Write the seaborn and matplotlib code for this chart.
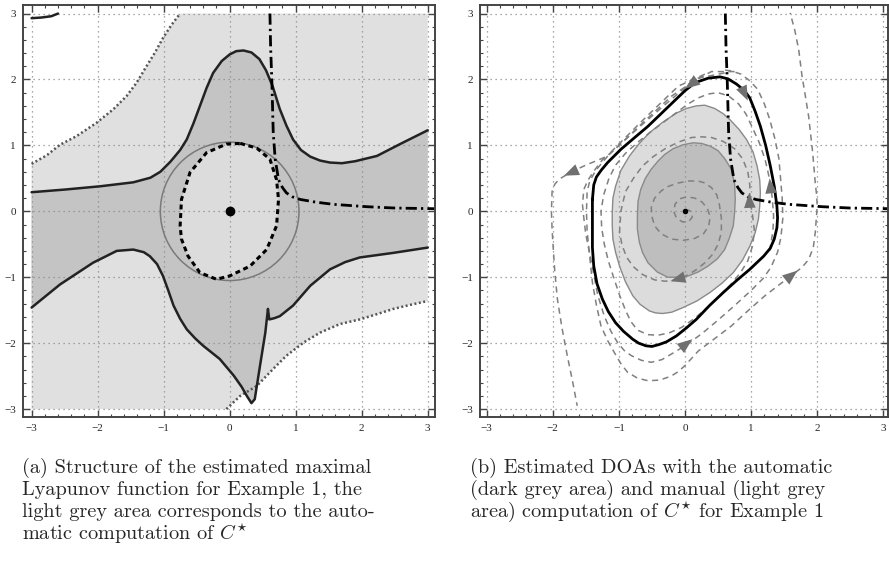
import numpy as np
import matplotlib
matplotlib.use("Agg")
import matplotlib.pyplot as plt
import seaborn as sns
from matplotlib.ticker import MultipleLocator

sns.set_style("ticks")
plt.rcParams["mathtext.fontset"] = "cm"

# ---------------- left panel (a) ----------------
# dotted boundary of the light grey region
bnd_up_x = [-3.0, -2.77, -2.57, -2.32, -2.02, -1.76, -1.56, -1.41, -1.26, -1.13, -1.01, -0.88, -0.75]
bnd_up_y = [0.72, 0.85, 1.01, 1.14, 1.34, 1.55, 1.75, 1.95, 2.20, 2.41, 2.63, 2.83, 3.0]
bnd_lo_x = [-0.05, 0.16, 0.41, 0.66, 0.86, 1.12, 1.37, 1.67, 1.97, 2.23, 2.48, 2.73, 3.0]
bnd_lo_y = [-3.0, -2.80, -2.65, -2.39, -2.19, -1.99, -1.84, -1.71, -1.64, -1.56, -1.48, -1.42, -1.36]

# solid level curves of the Lyapunov function
lyap_up_x = [-3.0, -2.5, -1.96, -1.46, -1.2, -1.05, -0.9, -0.75, -0.65, -0.55, -0.45, -0.35, -0.25,
             -0.12, 0.0, 0.1, 0.21, 0.33, 0.45, 0.55, 0.65, 0.76, 0.86, 0.96, 1.08, 1.22, 1.37, 1.52,
             1.7, 1.9, 2.23, 2.58, 3.0]
lyap_up_y = [0.29, 0.33, 0.38, 0.44, 0.51, 0.60, 0.75, 0.93, 1.09, 1.33, 1.60, 1.87, 2.10,
             2.28, 2.38, 2.43, 2.44, 2.41, 2.31, 2.14, 1.90, 1.55, 1.30, 1.09, 0.93, 0.83, 0.77, 0.74,
             0.73, 0.76, 0.84, 1.02, 1.23]
lyap_lo_x = [-3.0, -2.57, -2.07, -1.71, -1.46, -1.3, -1.21, -1.1, -1.01, -0.93, -0.85, -0.75, -0.65,
             -0.52, -0.40, -0.15, 0.06, 0.18, 0.26, 0.33, 0.38, 0.46, 0.54, 0.58, 0.60, 0.68, 0.76,
             0.96, 1.22, 1.52, 1.75, 1.97, 2.48, 3.0]
lyap_lo_y = [-1.46, -1.11, -0.78, -0.60, -0.58, -0.62, -0.68, -0.80, -0.98, -1.20, -1.43, -1.63, -1.79,
             -1.93, -2.04, -2.24, -2.49, -2.66, -2.80, -2.91, -2.85, -2.34, -1.84, -1.48, -1.64, -1.62, -1.59,
             -1.43, -1.13, -0.88, -0.77, -0.70, -0.63, -0.55]
corner_x = [-3.0, -2.85, -2.7, -2.6]
corner_y = [2.93, 2.94, 2.96, 3.0]

# dashed estimate inside the circle
est_x = [0.16, 0.41, 0.61, 0.71, 0.74, 0.71, 0.56, 0.31, 0.0, -0.20, -0.45, -0.63, -0.73, -0.75,
         -0.73, -0.60, -0.35, -0.05, 0.16]
est_y = [1.03, 0.96, 0.79, 0.48, 0.18, -0.22, -0.58, -0.83, -0.98, -1.03, -0.93, -0.68, -0.42, -0.22,
         0.18, 0.59, 0.89, 1.02, 1.03]
circle_r = 1.05

# dash-dot curve (both panels)
dd_x = [0.61, 0.62, 0.64, 0.66, 0.69, 0.74, 0.80, 0.86, 0.95, 1.07, 1.3, 1.57, 2.08, 2.5, 3.1]
dd_y = [3.0, 2.5, 1.95, 1.19, 0.79, 0.48, 0.36, 0.28, 0.22, 0.18, 0.14, 0.106, 0.07, 0.05, 0.04]

# ---------------- right panel (b) ----------------
manual_x = [-1.10, -1.09, -1.05, -0.97, -0.84, -0.70, -0.54, -0.34, -0.13, 0.02, 0.17, 0.30, 0.45,
            0.58, 0.68, 0.82, 0.93, 1.03, 1.09, 1.13, 1.14, 1.13, 1.11, 1.06, 0.98, 0.87, 0.73, 0.56,
            0.38, 0.18, -0.03, -0.20, -0.34, -0.45, -0.54, -0.68, -0.79, -0.90, -0.99, -1.05, -1.09, -1.10]
manual_y = [-0.02, 0.20, 0.38, 0.62, 0.84, 1.02, 1.19, 1.35, 1.49, 1.56, 1.60, 1.61, 1.56,
            1.48, 1.39, 1.24, 1.09, 0.90, 0.69, 0.48, 0.28, 0.08, -0.12, -0.33, -0.53, -0.74, -0.93, -1.09,
            -1.23, -1.36, -1.46, -1.53, -1.55, -1.54, -1.51, -1.41, -1.28, -1.07, -0.83, -0.62, -0.42, -0.22]
auto_x = [-0.72, -0.71, -0.67, -0.60, -0.51, -0.41, -0.31, -0.18, -0.03, 0.12, 0.25, 0.38, 0.50,
          0.60, 0.70, 0.75, 0.76, 0.75, 0.73, 0.67, 0.60, 0.49, 0.35, 0.20, 0.05, -0.10, -0.26,
          -0.42, -0.56, -0.64, -0.69, -0.72]
auto_y = [-0.07, 0.15, 0.33, 0.50, 0.64, 0.76, 0.86, 0.95, 1.01, 1.04, 1.03, 0.99, 0.92,
          0.80, 0.64, 0.42, 0.18, -0.02, -0.22, -0.41, -0.58, -0.72, -0.83, -0.92, -0.98, -1.00, -1.00,
          -0.92, -0.78, -0.63, -0.47, -0.27]
doa_x = [-1.40, -1.38, -1.34, -1.27, -1.17, -0.97, -0.76, -0.56, -0.28, 0.0, 0.15, 0.35, 0.53,
         0.65, 0.78, 0.90, 0.98, 1.06, 1.14, 1.22, 1.29, 1.35, 1.39, 1.40, 1.39, 1.35, 1.29, 1.19,
         0.98, 0.78, 0.58, 0.37, 0.17, 0.02, -0.13, -0.28, -0.39, -0.50, -0.59, -0.70, -0.79, -0.93,
         -1.05, -1.16, -1.25, -1.33, -1.38, -1.40, -1.40, -1.40]
doa_y = [0.18, 0.40, 0.52, 0.62, 0.74, 0.94, 1.12, 1.29, 1.56, 1.83, 1.95, 2.02, 2.04,
         2.01, 1.93, 1.83, 1.72, 1.52, 1.29, 1.00, 0.69, 0.38, 0.08, -0.10, -0.25, -0.42, -0.56, -0.68,
         -0.88, -1.05, -1.23, -1.43, -1.64, -1.77, -1.89, -1.98, -2.02, -2.05, -2.04, -2.00, -1.94, -1.82,
         -1.69, -1.52, -1.33, -1.10, -0.83, -0.55, -0.32, 0.18]

traj_left_x = [0.75, 0.4, 0.1, -0.3, -0.7, -1.0, -1.17, -1.33, -1.48, -1.63, -1.78, -1.90, -1.97,
               -2.01, -2.02, -2.01, -1.99, -1.97, -1.93, -1.86, -1.78, -1.70, -1.63]
traj_left_y = [2.12, 2.12, 1.96, 1.62, 1.27, 1.0, 0.84, 0.77, 0.71, 0.64, 0.56, 0.49, 0.41,
               0.30, 0.0, -0.27, -0.6, -0.9, -1.33, -1.77, -2.19, -2.58, -2.95]
traj_right_x = [0.6, 0.2, -0.2, -0.6, -1.05, -1.25, -1.37, -1.47, -1.53, -1.55, -1.53, -1.50, -1.45,
                -1.40, -1.34, -1.27, -1.17, -1.07, -0.97, -0.87, -0.72, -0.56, -0.38, -0.21, -0.1,
                0.0, 0.2, 0.45, 0.70, 0.95, 1.21, 1.43, 1.64, 1.77, 1.87, 1.94, 1.97, 2.0, 1.99,
                1.97, 1.93, 1.87, 1.82, 1.77, 1.72, 1.66, 1.59]
traj_right_y = [2.1, 2.02, 1.75, 1.38, 0.95, 0.78, 0.62, 0.47, 0.33, 0.1, -0.1, -0.35, -0.6,
                -1.08, -1.42, -1.74, -1.96, -2.14, -2.31, -2.44, -2.53, -2.57, -2.56, -2.5, -2.43,
                -2.34, -2.12, -1.93, -1.74, -1.51, -1.28, -1.11, -0.95, -0.85, -0.73, -0.55, -0.32, 0.08, 0.25,
                0.43, 0.9, 1.44, 1.75, 2.05, 2.45, 2.75, 3.01]
traj_mid_x = [0.3, -0.1, -0.6, -1.1, -1.35, -1.44, -1.48, -1.49, -1.48, -1.45, -1.39, -1.32, -1.22,
              -1.12, -1.02, -0.92, -0.81, -0.66, -0.51, -0.35, -0.18, 0.0, 0.25, 0.5, 0.75, 1.0, 1.18,
              1.3, 1.4, 1.45, 1.48, 1.47, 1.42, 1.36, 1.28, 1.2, 1.1, 0.98, 0.85, 0.7, 0.55]
traj_mid_y = [2.08, 1.9, 1.42, 0.92, 0.62, 0.46, 0.3, 0.0, -0.3, -0.6, -0.9, -1.27, -1.59,
              -1.82, -1.99, -2.11, -2.19, -2.26, -2.29, -2.25, -2.15, -2.04, -1.86, -1.65, -1.43, -1.2, -1.02,
              -0.85, -0.62, -0.4, -0.1, 0.2, 0.8, 1.1, 1.4, 1.63, 1.85, 1.98, 2.08, 2.13, 2.15]
spiral_x = [1.28, 1.33, 1.34, 1.32, 1.29, 1.25, 1.21, 1.12, 1.01, 0.92, 0.81, 0.66, 0.5, 0.35,
            0.2, 0.05, -0.1, -0.3, -0.5, -0.7, -0.9, -1.05, -1.15, -1.23, -1.27, -1.26, -1.22, -1.16,
            -1.08, -0.99, -0.9, -0.82, -0.72, -0.57, -0.41, -0.23, -0.05, 0.15, 0.35, 0.53, 0.7, 0.84,
            0.95, 1.02, 1.05, 1.02, 0.98,
            0.98, 0.95, 0.87, 0.75, 0.58, 0.4, 0.25, 0.1, -0.1, -0.3, -0.48, -0.64, -0.78, -0.9,
            -0.97, -0.99, -0.95, -0.88, -0.78, -0.64, -0.46, -0.3, -0.18, -0.05, 0.05, 0.18, 0.3, 0.42,
            0.5, 0.55, 0.55, 0.52,
            0.48, 0.4, 0.3, 0.2, 0.05, -0.1, -0.25, -0.36, -0.46, -0.51, -0.5, -0.46, -0.36, -0.21,
            -0.03, 0.15, 0.28, 0.36, 0.38, 0.34,
            0.26, 0.15, 0.03, -0.08, -0.15, -0.17, -0.13, -0.04, 0.05, 0.11, 0.1, 0.05, 0.0]
spiral_y = [-0.6, -0.3, -0.07, 0.2, 0.43, 0.62, 0.79, 1.05, 1.29, 1.48, 1.63, 1.75, 1.80, 1.78,
            1.72, 1.63, 1.52, 1.37, 1.22, 1.06, 0.88, 0.70, 0.5, 0.25, 0.0, -0.25, -0.5, -0.75,
            -1.0, -1.27, -1.5, -1.67, -1.80, -1.87, -1.88, -1.84, -1.76, -1.62, -1.45, -1.28, -1.1, -0.93,
            -0.75, -0.53, -0.3, -0.05, 0.18,
            0.4, 0.6, 0.8, 0.95, 1.06, 1.12, 1.13, 1.12, 1.05, 0.95, 0.83, 0.69, 0.5, 0.3,
            0.0, -0.32, -0.52, -0.70, -0.84, -0.96, -1.04, -1.06, -1.05, -1.01, -0.96, -0.88, -0.78, -0.65,
            -0.5, -0.32, -0.1, 0.1,
            0.25, 0.36, 0.43, 0.46, 0.46, 0.43, 0.38, 0.31, 0.2, 0.06, -0.08, -0.22, -0.34, -0.42,
            -0.44, -0.41, -0.34, -0.22, -0.08, 0.04,
            0.14, 0.2, 0.22, 0.19, 0.11, 0.0, -0.1, -0.16, -0.16, -0.09, -0.01, 0.02, 0.0]
arrow_tail = [(0.15, 1.97), (0.88, 1.83), (1.30, 0.30), (0.98, 0.08), (-0.08, -1.02),
              (-0.03, -2.05), (1.55, -1.02), (-1.65, 0.62)]
arrow_head = [(0.0, 1.86), (0.95, 1.68), (1.28, 0.50), (0.97, 0.28), (-0.22, -1.06),
              (0.11, -1.94), (1.70, -0.90), (-1.83, 0.54)]

captions_a = ["(a) Structure of the estimated maximal",
              "Lyapunov function for Example 1, the",
              "light grey area corresponds to the auto-",
              r"matic computation of $C^{\star}$"]
captions_b = ["(b) Estimated DOAs with the automatic",
              "(dark grey area) and manual (light grey",
              r"area) computation of $C^{\star}$ for Example 1"]

W, H = 889, 573
fig = plt.figure(figsize=(W / 100, H / 100), dpi=100)
ax1 = fig.add_axes([23 / W, 1 - 417 / H, 412 / W, 412 / H])
ax2 = fig.add_axes([480 / W, 1 - 417 / H, 408 / W, 412 / H])


def style_axes(ax, xlim):
    ax.set_xlim(*xlim)
    ax.set_ylim(-3.12, 3.13)
    ax.xaxis.set_major_locator(MultipleLocator(1))
    ax.yaxis.set_major_locator(MultipleLocator(1))
    ax.xaxis.set_minor_locator(MultipleLocator(0.2))
    ax.yaxis.set_minor_locator(MultipleLocator(0.2))
    ax.tick_params(which="both", direction="in", top=True, right=True, color="#444444",
                   labelsize=8, pad=5)
    ax.tick_params(which="major", length=5, width=1.0)
    ax.tick_params(which="minor", length=2.5, width=0.8)
    for lab in ax.get_xticklabels() + ax.get_yticklabels():
        lab.set_family("Liberation Serif")
    ax.grid(True, which="major", linestyle=(0, (1, 3)), color="#8c8c8c", linewidth=0.9)
    ax.set_axisbelow("line")
    for sp in ax.spines.values():
        sp.set_color("#444444")
        sp.set_linewidth(1.4)
    ax.set_xlabel("")
    ax.set_ylabel("")


def curve(ax, x, y, **kw):
    sns.lineplot(x=x, y=y, sort=False, estimator=None, ax=ax, **kw)


# ----- panel (a)
light_x = [-3.0] + bnd_lo_x + [3.0] + bnd_up_x[::-1]
light_y = [-3.0] + bnd_lo_y + [3.0] + bnd_up_y[::-1]
ax1.fill(light_x, light_y, color="#e0e0e0", lw=0, zorder=0.5)
ax1.fill(lyap_up_x + lyap_lo_x[::-1], lyap_up_y + lyap_lo_y[::-1], color="#c4c4c4", lw=0, zorder=0.6)
ax1.fill(est_x, est_y, color="#dcdcdc", lw=0, zorder=0.7)
ax1.add_patch(plt.Circle((0, 0), circle_r, fill=False, ec="#7a7a7a", lw=1.1, zorder=2))
curve(ax1, bnd_up_x, bnd_up_y, color="#555555", linewidth=1.8, linestyle=(0, (0.8, 1.0)))
curve(ax1, bnd_lo_x, bnd_lo_y, color="#555555", linewidth=1.8, linestyle=(0, (0.8, 1.0)))
curve(ax1, lyap_up_x, lyap_up_y, color="#222222", linewidth=1.8)
curve(ax1, lyap_lo_x, lyap_lo_y, color="#222222", linewidth=1.8)
curve(ax1, corner_x, corner_y, color="#222222", linewidth=1.8)
curve(ax1, est_x, est_y, color="black", linewidth=2.2, linestyle=(0, (1.6, 1.2)))
curve(ax1, dd_x, dd_y, color="black", linewidth=2.0, linestyle=(0, (4, 1.5, 0.8, 1.5)))
ax1.plot([0], [0], "o", color="black", ms=6, zorder=5)
style_axes(ax1, (-3.13, 3.11))

# ----- panel (b)
ax2.fill(manual_x, manual_y, fc="#dcdcdc", ec="#8a8a8a", lw=1.0, zorder=0.6)
ax2.fill(auto_x, auto_y, fc="#bebebe", ec="#8a8a8a", lw=1.0, zorder=0.7)
for tx, ty in [(traj_left_x, traj_left_y), (traj_right_x, traj_right_y),
               (traj_mid_x, traj_mid_y), (spiral_x, spiral_y)]:
    curve(ax2, tx, ty, color="#808080", linewidth=1.1, linestyle=(0, (4, 3)))
curve(ax2, doa_x, doa_y, color="black", linewidth=2.0)
curve(ax2, dd_x, dd_y, color="black", linewidth=2.0, linestyle=(0, (4, 1.5, 0.8, 1.5)))
for t, h in zip(arrow_tail, arrow_head):
    ax2.annotate("", xy=h, xytext=t,
                 arrowprops=dict(arrowstyle="-|>,head_length=0.9,head_width=0.35",
                                 color="#707070", lw=0, shrinkA=0, shrinkB=0, mutation_scale=12))
ax2.plot([0], [0], "o", color="black", ms=3, zorder=5)
style_axes(ax2, (-3.10, 3.07))

# ----- captions
for i, line in enumerate(captions_a):
    fig.text(22 / W, 1 - (468 + 22 * i) / H, line, family="cmr10", fontsize=14.6, va="center")
for i, line in enumerate(captions_b):
    fig.text(470 / W, 1 - (468 + 22 * i) / H, line, family="cmr10", fontsize=14.6, va="center")

fig.savefig("out.png", dpi=100)
